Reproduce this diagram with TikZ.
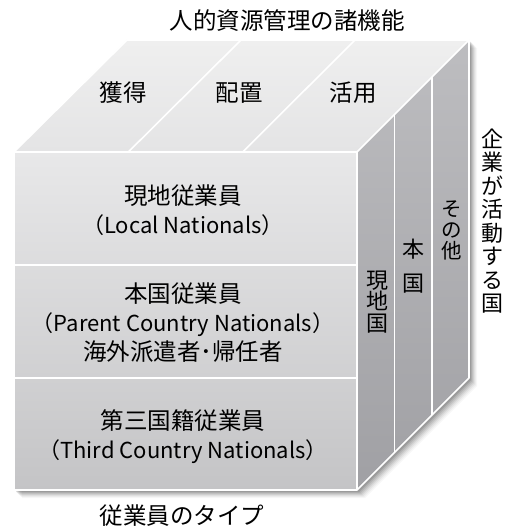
\documentclass[tikz,border=0pt]{standalone}
\usepackage{fontspec}
\setmainfont{Noto Sans CJK JP}
\definecolor{fronttop}{HTML}{E8E8E9}
\definecolor{frontbot}{HTML}{C4C4C6}
\definecolor{topback}{HTML}{EFEFEF}
\definecolor{topfront}{HTML}{E4E4E5}
\definecolor{righttop}{HTML}{BDBDC0}
\definecolor{rightbot}{HTML}{A0A0A4}
\tikzset{
  edge/.style={draw=white, line width=1.6pt, line join=round},
  lbl/.style={inner sep=0pt, font=\fontsize{23.5}{29}\selectfont, align=center},
  vlbl/.style={inner sep=0pt, font=\fontsize{22}{23.5}\selectfont, align=center},
}
\newcommand{\latn}[1]{{\fontsize{22}{29}\selectfont #1}}
\begin{document}
\begin{tikzpicture}[x=1pt, y=-1pt]
\useasboundingbox (0,0) rectangle (511,526);
% corners
\coordinate (FTL) at (14,152);
\coordinate (FTR) at (357,152);
\coordinate (FBL) at (14,490);
\coordinate (FBR) at (357,490);
\coordinate (BTL) at (127,40);
\coordinate (BTR) at (469,40);
\coordinate (BBR) at (469,378);
% shadow
\foreach \s/\o in {8/0.03,7/0.04,6/0.05,5/0.07,4/0.08,3/0.09,2/0.12} {
  \fill[black, opacity=\o] ([shift={(\s,\s)}]FBL) -- ([shift={(\s,\s)}]FBR) -- ([shift={(\s,\s)}]BBR)
     -- ([shift={(\s,\s)}]BTR) -- ([shift={(\s,\s)}]BTL) -- ([shift={(\s,\s)}]FTL) -- cycle;
}
% top face
\shade[top color=topback, bottom color=topfront] (FTL) -- (FTR) -- (BTR) -- (BTL) -- cycle;
% right face
\shade[top color=righttop, bottom color=rightbot] (FTR) -- (BTR) -- (BBR) -- (FBR) -- cycle;
% front face
\shade[top color=fronttop, bottom color=frontbot] (FTL) rectangle (FBR);
% dividers
\coordinate (T1f) at (128.3,152); \coordinate (T1b) at (241,40);
\coordinate (T2f) at (242.7,152); \coordinate (T2b) at (355,40);
\draw[edge] (T1f) -- (T1b) (T2f) -- (T2b);
\coordinate (R1t) at (394.3,114.7); \coordinate (R1b) at (394.3,452.7);
\coordinate (R2t) at (431.7,77.3); \coordinate (R2b) at (431.7,415.3);
\draw[edge] (R1t) -- (R1b) (R2t) -- (R2b);
\coordinate (H1l) at (14,265); \coordinate (H1r) at (357,265);
\coordinate (H2l) at (14,378); \coordinate (H2r) at (357,378);
\draw[edge] (H1l) -- (H1r) (H2l) -- (H2r);
% outlines
\draw[edge] (FTL) rectangle (FBR);
\draw[edge] (FTL) -- (BTL) -- (BTR) -- (FTR);
\draw[edge] (BTR) -- (BBR) -- (FBR);
% labels
\node[lbl] (title) at (287,21) {人的資源管理の諸機能};
\node[lbl] (f1) at (123,93) {獲得};
\node[lbl] (f2) at (239,93) {配置};
\node[lbl] (f3) at (353,93) {活用};
\node[lbl] (e1) at (183,210) {現地従業員\\\latn{（Local Nationals）}};
\node[lbl] (e2) at (183,323) {本国従業員\\\latn{（Parent Country Nationals）}\\海外派遣者･帰任者};
\node[lbl] (e3) at (183,437) {第三国籍従業員\\\latn{（Third Country Nationals）}};
\node[lbl, text height=18pt, text depth=1pt, anchor=base] (etype) at (182,524) {従業員のタイプ};
\node[vlbl] (country) at (492,221) {企\\業\\が\\活\\動\\す\\る\\国};
\node[vlbl, font=\fontsize{22}{21.5}\selectfont] (c1) at (377,302) {現\\地\\国};
\node[vlbl, font=\fontsize{22}{34}\selectfont] (c2) at (413,266) {本\\国};
\node[vlbl, font=\fontsize{20.5}{21}\selectfont] (c3) at (452,230) {そ\\の\\他};
\end{tikzpicture}
\end{document}
